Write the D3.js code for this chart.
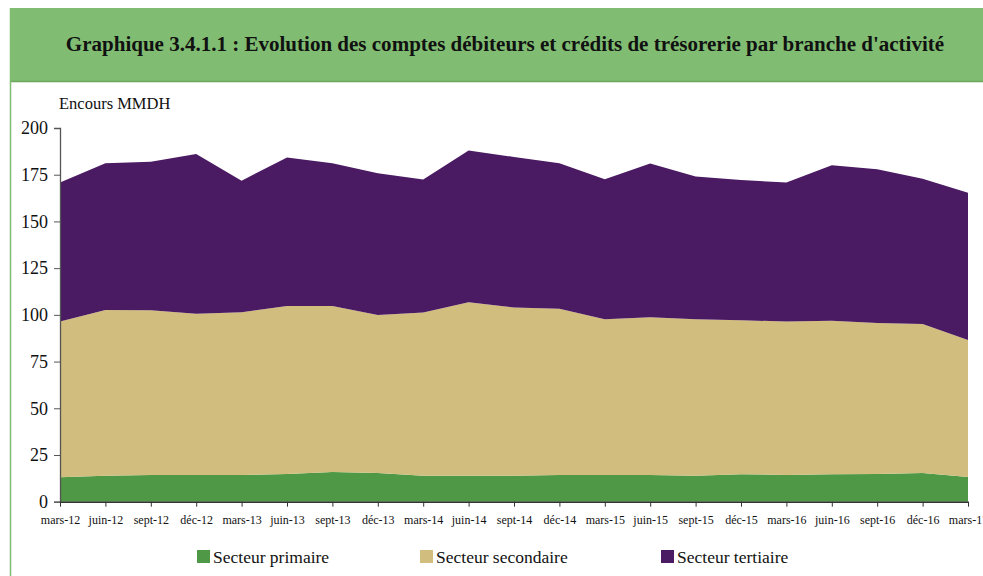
<!DOCTYPE html>
<html><head><meta charset="utf-8">
<script src="https://cdn.jsdelivr.net/npm/d3@7"></script>
<style>body{margin:0;background:#fff}svg{display:block}
svg text{font-family:"Liberation Serif","Times New Roman","DejaVu Serif",serif;}
</style>
</head><body>
<svg id="c" width="983" height="576"></svg>
<script>
const categories = ["mars-12","juin-12","sept-12","déc-12","mars-13","juin-13","sept-13","déc-13","mars-14","juin-14","sept-14","déc-14","mars-15","juin-15","sept-15","déc-15","mars-16","juin-16","sept-16","déc-16","mars-17"];
const primaire   = [13.1,13.9,14.3,14.3,14.3,14.8,15.9,15.4,13.9,13.9,13.9,14.3,14.3,14.3,13.9,14.7,14.3,14.7,14.8,15.4,13.2];
const secondaire = [83.3,88.7,88.2,86.3,87.1,90.0,88.9,84.5,87.3,92.8,90.0,89.0,83.3,84.4,83.7,82.4,82.1,82.2,80.9,79.7,73.4];
const tertiaire  = [74.4,78.6,79.4,85.5,70.4,79.4,76.4,75.9,71.2,81.2,80.6,77.9,75.0,82.3,76.4,75.1,74.4,83.2,82.2,77.8,78.8];
const seriesNames = ["Secteur primaire","Secteur secondaire","Secteur tertiaire"];
const yTicks = [0,25,50,75,100,125,150,175,200];
const title = "Graphique 3.4.1.1 : Evolution des comptes débiteurs et crédits de trésorerie par branche d'activité";
const yLabel = "Encours MMDH";

const colors = ["#4f9845","#d1bd7d","#4a1a62"];
const svg = d3.select("#c");

// frame
svg.append("rect").attr("x",10).attr("y",8).attr("width",973).attr("height",74).attr("fill","#80bd72");
svg.append("line").attr("x1",10).attr("x2",983).attr("y1",81.5).attr("y2",81.5).attr("stroke","#6aa85c").attr("stroke-width",1.5);
svg.append("line").attr("x1",10.5).attr("x2",10.5).attr("y1",8).attr("y2",576).attr("stroke","#80bd72").attr("stroke-width",1.5);

const t = svg.append("text").attr("x",505).attr("y",51).attr("text-anchor","middle")
  .style("font-weight","bold").style("font-size","18px").attr("fill","#111").text(title);
const tw = t.node().getComputedTextLength();
t.style("font-size", (18*879/tw)+"px");

const data = categories.map((c,i)=>({cat:c, p:primaire[i], s:secondaire[i], t:tertiaire[i]}));
const stack = d3.stack().keys(["p","s","t"])(data);

const x = d3.scalePoint().domain(categories).range([60,968]);
const y = d3.scaleLinear().domain([0,200]).range([501.7,128]);

const area = d3.area().x(d=>x(d.data.cat)).y0(d=>y(d[0])).y1(d=>y(d[1]));
svg.append("g").selectAll("path").data(stack).join("path")
  .attr("d",area).attr("fill",(d,i)=>colors[i]);

// y axis
const ya = svg.append("g").attr("transform","translate(60,0)")
  .call(d3.axisLeft(y).tickValues(yTicks).tickSize(6).tickPadding(6));
ya.attr("font-family",null).attr("font-size",null);
ya.select(".domain").attr("stroke","#555").attr("stroke-width",1.3);
ya.selectAll(".tick line").attr("stroke","#555");
ya.selectAll("text").style("font-size","18px").attr("fill","#111");

// x axis
const xa = svg.append("g").attr("transform","translate(0,501.7)")
  .call(d3.axisBottom(x).tickSize(5).tickPadding(9).tickSizeOuter(0));
xa.attr("font-family",null).attr("font-size",null);
xa.select(".domain").attr("stroke","#333").attr("stroke-width",1.5);
xa.selectAll(".tick line").attr("stroke","#333");
xa.selectAll("text").style("font-size","12px").attr("fill","#111");

svg.append("text").attr("x",59).attr("y",109).style("font-size","16.5px").attr("fill","#111").text(yLabel);

// legend
const legX = [197,420,661];
const lg = svg.append("g");
seriesNames.forEach((n,i)=>{
  lg.append("rect").attr("x",legX[i]).attr("y",550).attr("width",13).attr("height",13).attr("fill",colors[i]);
  lg.append("text").attr("x",legX[i]+16).attr("y",563).style("font-size","17.5px").attr("fill","#111").text(n);
});
</script>
</body></html>
